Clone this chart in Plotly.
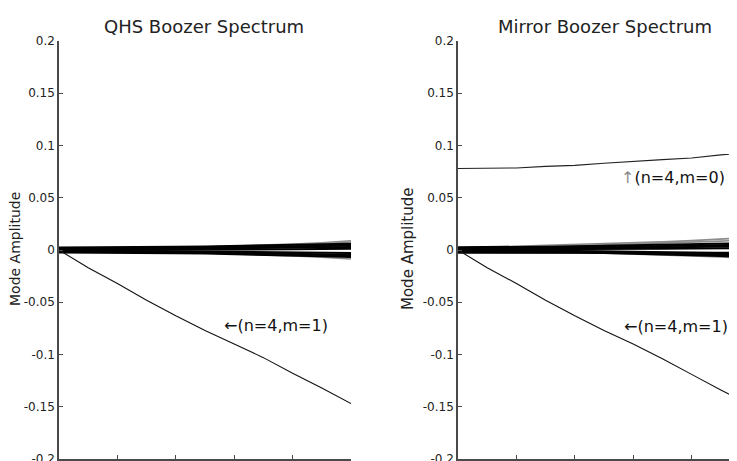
import plotly.graph_objects as go

# ---------------- data ----------------
s = [0.0, 0.1, 0.2, 0.3, 0.4, 0.5, 0.6, 0.7, 0.8, 0.9, 1.0]

qhs_n4m1 = [0.0, -0.017, -0.032, -0.048, -0.063, -0.077, -0.090, -0.103, -0.118, -0.132, -0.147]
mir_n4m1 = [0.0, -0.017, -0.032, -0.048, -0.063, -0.077, -0.090, -0.104, -0.119, -0.134, -0.148]
mir_n4m0 = [0.078, 0.078, 0.0785, 0.080, 0.081, 0.083, 0.085, 0.0865, 0.088, 0.091, 0.093]

# small modes, left panel (QHS)
qhs_small_black = [
    [0.0024, 0.0024, 0.0025, 0.0027, 0.0030, 0.0034, 0.0038, 0.0043, 0.0048, 0.0054, 0.0060],
    [0.0015, 0.0015, 0.0016, 0.0018, 0.0020, 0.0023, 0.0026, 0.0030, 0.0034, 0.0038, 0.0042],
    [0.0008, 0.0008, 0.0009, 0.0010, 0.0012, 0.0014, 0.0016, 0.0019, 0.0022, 0.0025, 0.0028],
    [0.0000, 0.0000, 0.0000, 0.0001, 0.0002, 0.0003, 0.0004, 0.0005, 0.0007, 0.0009, 0.0011],
    [-0.0008, -0.0008, -0.0009, -0.0010, -0.0012, -0.0014, -0.0016, -0.0019, -0.0022, -0.0025, -0.0028],
    [-0.0015, -0.0015, -0.0016, -0.0018, -0.0020, -0.0023, -0.0027, -0.0031, -0.0036, -0.0041, -0.0046],
    [-0.0024, -0.0024, -0.0025, -0.0027, -0.0030, -0.0034, -0.0039, -0.0045, -0.0052, -0.0060, -0.0068],
    [0.0000, 0.0003, 0.0006, 0.0009, 0.0012, 0.0016, 0.0021, 0.0027, 0.0034, 0.0042, 0.0050],
    [0.0000, -0.0003, -0.0006, -0.0010, -0.0014, -0.0019, -0.0025, -0.0032, -0.0040, -0.0048, -0.0056],
]
qhs_small_gray = [
    [0.0018, 0.0018, 0.0019, 0.0021, 0.0025, 0.0030, 0.0037, 0.0045, 0.0056, 0.0070, 0.0088],
    [0.0010, 0.0010, 0.0011, 0.0013, 0.0017, 0.0022, 0.0029, 0.0038, 0.0049, 0.0062, 0.0076],
    [-0.0012, -0.0012, -0.0012, -0.0013, -0.0015, -0.0018, -0.0022, -0.0028, -0.0036, -0.0046, -0.0060],
    [-0.0018, -0.0018, -0.0019, -0.0021, -0.0024, -0.0029, -0.0036, -0.0045, -0.0056, -0.0070, -0.0086],
]

# small modes, right panel (Mirror)
mir_small_black = [
    [0.0027, 0.0027, 0.0029, 0.0032, 0.0036, 0.0040, 0.0044, 0.0049, 0.0054, 0.0060, 0.0066],
    [0.0020, 0.0020, 0.0021, 0.0023, 0.0026, 0.0029, 0.0033, 0.0037, 0.0041, 0.0046, 0.0051],
    [0.0012, 0.0012, 0.0013, 0.0014, 0.0016, 0.0018, 0.0021, 0.0024, 0.0027, 0.0031, 0.0035],
    [0.0005, 0.0005, 0.0005, 0.0006, 0.0007, 0.0008, 0.0010, 0.0012, 0.0014, 0.0016, 0.0018],
    [-0.0005, -0.0005, -0.0006, -0.0008, -0.0010, -0.0013, -0.0016, -0.0020, -0.0024, -0.0029, -0.0034],
    [-0.0012, -0.0012, -0.0013, -0.0015, -0.0018, -0.0022, -0.0027, -0.0032, -0.0038, -0.0045, -0.0052],
    [-0.0018, -0.0018, -0.0019, -0.0021, -0.0024, -0.0028, -0.0034, -0.0041, -0.0049, -0.0058, -0.0068],
    [-0.0027, -0.0027, -0.0027, -0.0027, -0.0027, -0.0027, -0.0027, -0.0027, -0.0027, -0.0027, -0.0027],
]
mir_small_gray = [
    [0.0020, 0.0025, 0.0035, 0.0045, 0.0052, 0.0060, 0.0068, 0.0078, 0.0090, 0.0105, 0.0120],
    [0.0015, 0.0017, 0.0022, 0.0030, 0.0038, 0.0046, 0.0055, 0.0064, 0.0074, 0.0085, 0.0097],
    [-0.0010, -0.0010, -0.0012, -0.0016, -0.0022, -0.0029, -0.0037, -0.0046, -0.0056, -0.0067, -0.0080],
]

ytick_vals = [-0.2, -0.15, -0.1, -0.05, 0.0, 0.05, 0.1, 0.15, 0.2]
ytick_text = ["-0.2", "-0.15", "-0.1", "-0.05", "0", "0.05", "0.1", "0.15", "0.2"]
xtick_vals = [0.0, 0.2, 0.4, 0.6, 0.8, 1.0]

titles = ["QHS Boozer Spectrum", "Mirror Boozer Spectrum"]
ylabel = "Mode Amplitude"

# ---------------- figure ----------------
W, H = 737, 461
OFF = 8  # page offset of the plot div (body margin)
FONT = "DejaVu Sans"
AX = "#4a4a4a"

# target screen positions (px)
TOP, BOT = 41, 459
L1, R1 = 59, 351
L2 = 458
MT = TOP - OFF
MB = H - (BOT - OFF)

fig = go.Figure()


def add_lines(series_list, color, xa, ya, width=1.2):
    for ys in series_list:
        fig.add_trace(go.Scatter(x=s, y=ys, mode="lines", xaxis=xa, yaxis=ya,
                                 line=dict(color=color, width=width),
                                 showlegend=False, hoverinfo="skip"))


# left
add_lines(qhs_small_gray, "#8c8c8c", "x", "y", 1.6)
add_lines(qhs_small_black, "#000000", "x", "y", 2.0)
add_lines([qhs_n4m1], "#111111", "x", "y", 1.1)
# right
add_lines(mir_small_gray, "#8c8c8c", "x2", "y2", 1.6)
add_lines(mir_small_black, "#000000", "x2", "y2", 2.0)
add_lines([mir_n4m1], "#111111", "x2", "y2", 1.1)
add_lines([mir_n4m0], "#222222", "x2", "y2", 1.1)

d1 = [(L1 - OFF) / W, (R1 - OFF) / W]
d2 = [(L2 - OFF) / W, 1.0]
x2_max = (W - (L2 - OFF)) / (R1 - L1)

yax = dict(range=[-0.2, 0.2], tickvals=ytick_vals, ticktext=ytick_text,
           ticks="inside", ticklen=4, tickcolor=AX, showline=True, linecolor=AX,
           linewidth=1.5, showgrid=False, zeroline=False,
           tickfont=dict(family=FONT, size=12, color="#222222"), domain=[0, 1])
xax = dict(tickvals=xtick_vals, ticks="inside", ticklen=4, tickcolor=AX,
           showline=True, linecolor=AX, linewidth=1.5, showgrid=False,
           zeroline=False, showticklabels=False)

fig.update_layout(
    width=W, height=H,
    margin=dict(l=0, r=0, t=MT, b=MB, pad=0),
    paper_bgcolor="white", plot_bgcolor="white",
    xaxis=dict(xax, domain=d1, range=[0, 1.0], anchor="y"),
    yaxis=dict(yax, anchor="x"),
    xaxis2=dict(xax, domain=d2, range=[0, x2_max], anchor="y2"),
    yaxis2=dict(yax, anchor="x2"),
    showlegend=False,
)


def px(sx):
    return (sx - OFF) / W


def py(sy):
    return (BOT - sy) / (BOT - TOP)


ann_font = dict(family=FONT, size=16, color="#111111")
annotations = [
    dict(text=titles[0], x=px(204), y=py(27), xref="paper", yref="paper",
         xanchor="center", yanchor="middle",
         showarrow=False, font=dict(family=FONT, size=18, color="#222222")),
    dict(text=titles[1], x=px(605), y=py(27), xref="paper", yref="paper",
         xanchor="center", yanchor="middle",
         showarrow=False, font=dict(family=FONT, size=18, color="#222222")),
    dict(text=ylabel, x=px(15), y=py(249), xref="paper", yref="paper", textangle=-90,
         xanchor="center", yanchor="middle",
         showarrow=False, font=dict(family=FONT, size=14, color="#222222")),
    dict(text=ylabel, x=px(408), y=py(249), xref="paper", yref="paper", textangle=-90,
         xanchor="center", yanchor="middle",
         showarrow=False, font=dict(family=FONT, size=15, color="#222222")),
    dict(text="\u2190(n=4,m=1)", x=0.743, y=-0.0727, xref="x", yref="y",
         xanchor="center", yanchor="middle", showarrow=False, font=ann_font),
    dict(text="\u2190(n=4,m=1)", x=0.747, y=-0.0735, xref="x2", yref="y2",
         xanchor="center", yanchor="middle", showarrow=False, font=ann_font),
    dict(text="<span style='color:#8c8c8c'>\u2191</span>(n=4,m=0)", x=0.736, y=0.0693,
         xref="x2", yref="y2", xanchor="center", yanchor="middle",
         showarrow=False, font=ann_font),
]
fig.update_layout(annotations=annotations)

fig.write_html("out.html")
